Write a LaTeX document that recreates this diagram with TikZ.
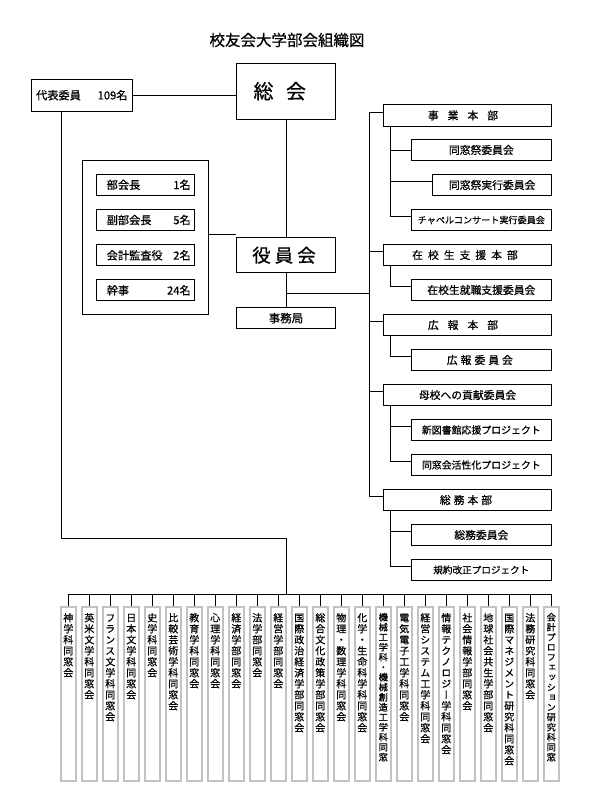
\documentclass[tikz,border=0pt]{standalone}
\usepackage{fontspec}
\setmainfont[FakeBold=0.6,AutoFakeBold=0.6]{Noto Sans CJK JP}
\newfontfamily\jpf[FakeBold=0.6]{Noto Sans CJK JP}
\newfontfamily\vjp[RawFeature=+vert,FakeBold=0.6]{Noto Sans CJK JP}
\ExplSyntaxOn
\tl_new:N \l_tate_tl
\NewDocumentCommand\tate{mm}{
  \tl_set:Nx \l_tate_tl {#2}
  \vbox:n{
    \offinterlineskip
    \tl_map_inline:Nn \l_tate_tl {
      \hbox_to_wd:nn{1.2em}{\vrule height .82\dimexpr#1\relax depth .18\dimexpr#1\relax width 0pt \hss ##1 \hss}
    }
  }
}
\NewDocumentCommand\spaced{mm}{
  \tl_map_inline:nn{#2}{##1\hspace{#1}}\hspace{-#1}
}
\ExplSyntaxOff
\tikzset{
  bx/.style={draw, line width=0.8pt, inner sep=0pt, fill=white},
  lone/.style={bx, minimum width=168.4pt, minimum height=21.4pt, font=\jpf\fontsize{10.8}{13}\selectfont},
  ltwo/.style={bx, minimum width=140.7pt, minimum height=21.4pt, font=\jpf\fontsize{10.8}{13}\selectfont},
  role/.style={bx, minimum width=98pt, minimum height=21pt, font=\jpf\fontsize{11.2}{13}\selectfont},
  colbox/.style={draw=black!24, line width=1.4pt, fill=white, minimum width=15pt, minimum height=174pt, inner sep=0pt},
  conn/.style={line width=0.8pt},
}
\begin{document}
\begin{tikzpicture}[x=1pt,y=-1pt]
\fill[white] (0,0) rectangle (595,808);
\useasboundingbox (0,0) rectangle (595,808);

\node[font=\jpf] (title) at (287,40) {\fontsize{15.5}{18}\selectfont 校友会大学部会組織図};

% top level
\node[bx, minimum width=98.4pt, minimum height=56.4pt, font=\jpf\fontsize{20}{24}\selectfont] (sokai) at (286,91.2) {\spaced{12.5pt}{総会}};
\node[bx, minimum width=100.4pt, minimum height=32.4pt, font=\jpf\fontsize{11.2}{13}\selectfont] (daihyo) at (81.8,95.2) {\makebox[100.4pt]{\hspace{4.5pt}代表委員\hfill 109名\hspace{4.5pt}}};
\draw[conn] (daihyo.east) -- (daihyo.east -| sokai.west);

% officers
\node[bx, minimum width=126pt, minimum height=154pt] (outer) at (145.7,237.7) {};
\node[role] (r1) at (145.7,184.8) {\makebox[98pt]{\hspace{10pt}部会長\hfill 1名\hspace{4pt}}};
\node[role] (r2) at (145.7,220) {\makebox[98pt]{\hspace{10pt}副部会長\hfill 5名\hspace{4pt}}};
\node[role] (r3) at (145.7,255.3) {\makebox[98pt]{\hspace{10pt}会計監査役\hfill 2名\hspace{4pt}}};
\node[role] (r4) at (145.7,290.3) {\makebox[98pt]{\hspace{10pt}幹事\hfill 24名\hspace{4pt}}};

\node[bx, minimum width=98.7pt, minimum height=35pt, font=\jpf\fontsize{18.5}{22}\selectfont] (yakuin) at (286,255.2) {\spaced{4pt}{役員会}};
\node[bx, minimum width=98.7pt, minimum height=21pt, font=\jpf\fontsize{11.5}{13}\selectfont] (jimu) at (286,318.2) {事務局};

\draw[conn] (sokai.south) -- (yakuin.north);
\draw[conn] (yakuin.south) -- (jimu.north);
\draw[conn] ([yshift=3pt]outer.east) -- ([yshift=3pt]outer.east -| yakuin.west);

% right side
\coordinate (spx) at (369.3,0);
\coordinate (ssx) at (390.7,0);
\coordinate (br) at (286,293.3);
\draw[conn] (br) -- (spx |- br);

\node[lone] (jigyo)  at (467.5,115.4) {\spaced{9pt}{事業本部}};
\node[lone] (zaikou) at (467.5,255) {\spaced{5pt}{在校生支援本部}};
\node[lone] (kouhou) at (467.5,325) {\spaced{9pt}{広報本部}};
\node[lone] (bokou)  at (467.5,395) {母校への貢献委員会};
\node[lone] (soumu)  at (467.5,500) {\spaced{3pt}{総務本部}};

\node[ltwo] (dousou) at (481.35,150) {同窓祭委員会};
\node[bx, minimum width=119pt, minimum height=21.4pt, font=\jpf\fontsize{10.8}{13}\selectfont] (jikkou) at (492.2,185) {同窓祭実行委員会};
\node[ltwo, font=\jpf\fontsize{9.1}{11}\selectfont] (chapel) at (481.35,220) {チャペルコンサート実行委員会};
\node[ltwo] (shoku) at (481.35,290) {在校生就職支援委員会};
\node[ltwo] (kiin) at (481.35,360) {\spaced{3pt}{広報委員会}};
\node[ltwo, font=\jpf\fontsize{9.9}{12}\selectfont] (tosho) at (481.35,430) {新図書館応援プロジェクト};
\node[ltwo, font=\jpf\fontsize{9.9}{12}\selectfont] (kassei) at (481.35,465) {同窓会活性化プロジェクト};
\node[ltwo] (siin) at (481.35,535) {総務委員会};
\node[ltwo, font=\jpf\fontsize{9.6}{12}\selectfont] (kiyaku) at (481.35,570) {規約改正プロジェクト};

% main spine
\draw[conn] ([yshift=3.5pt]jigyo.west) -| ([yshift=3.5pt]spx |- soumu.west) -- ([yshift=3.5pt]soumu.west);
\foreach \n in {zaikou,kouhou,bokou}
  \draw[conn] ([yshift=3.5pt]\n.west) -- ([yshift=3.5pt]spx |- \n.west);

% sub spines
\draw[conn] (ssx |- jigyo.south) |- ([yshift=3.5pt]chapel.west);
\draw[conn] (ssx |- dousou.west) -- (dousou.west);
\draw[conn] ([yshift=3.5pt]ssx |- jikkou.west) -- ([yshift=3.5pt]jikkou.west);
\draw[conn] (ssx |- zaikou.south) |- ([yshift=3.5pt]shoku.west);
\draw[conn] (ssx |- kouhou.south) |- ([yshift=3.5pt]kiin.west);
\draw[conn] (ssx |- bokou.south) |- ([yshift=3.5pt]kassei.west);
\draw[conn] ([yshift=3.5pt]ssx |- tosho.west) -- ([yshift=3.5pt]tosho.west);
\draw[conn] (ssx |- soumu.south) |- ([yshift=3.5pt]kiyaku.west);
\draw[conn] ([yshift=3.5pt]ssx |- siin.west) -- ([yshift=3.5pt]siin.west);

% bottom columns
\foreach \lab/\p/\f [count=\i from 0] in {
  神学科同窓会/11/10, 英米文学科同窓会/11/10, フランス文学科同窓会/11/10, 日本文学科同窓会/11/10,
  史学科同窓会/11/10, 比較芸術学科同窓会/11/10, 教育学科同窓会/11/10, 心理学科同窓会/11/10,
  経済学部同窓会/11/10, 法学部同窓会/11/10, 経営学部同窓会/11/10, 国際政治経済学部同窓会/11/10,
  総合文化政策学部同窓会/11/10, 物理・数理学科同窓会/11/10, 化学・生命科学科同窓会/11/10,
  機械工学科・機械創造工学科同窓/10/9.2, 電気電子工学科同窓会/11/10, 経営システム工学科同窓会/11/10,
  情報テクノロジー学科同窓会/11/10, 社会情報学部同窓会/11/10, 地球社会共生学部同窓会/11/10,
  国際マネジメント研究科同窓会/11/10, 法務研究科同窓会/11/10, 会計プロフェッション研究科同窓/10/9.2}
{
  \node[colbox] (c\i) at ({68.3+21*\i},694) {};
  \node[anchor=north, inner sep=0pt, font=\vjp\fontsize{\f}{\p}\selectfont] (t\i) at ({68.3+21*\i},612.3) {\tate{\p pt}{\lab}};
}

\coordinate (dl) at (61.7,0);
\coordinate (bend) at (286,538.3);
\coordinate (bus) at (286,594.3);
\draw[conn] (dl |- daihyo.south) |- (bend) -- (bus);
\draw[conn] (c0.north |- bus) -- (c23.north |- bus);
\foreach \i in {0,...,23}
  \draw[conn] (c\i.north |- bus) -- (c\i.north);
\end{tikzpicture}
\end{document}
